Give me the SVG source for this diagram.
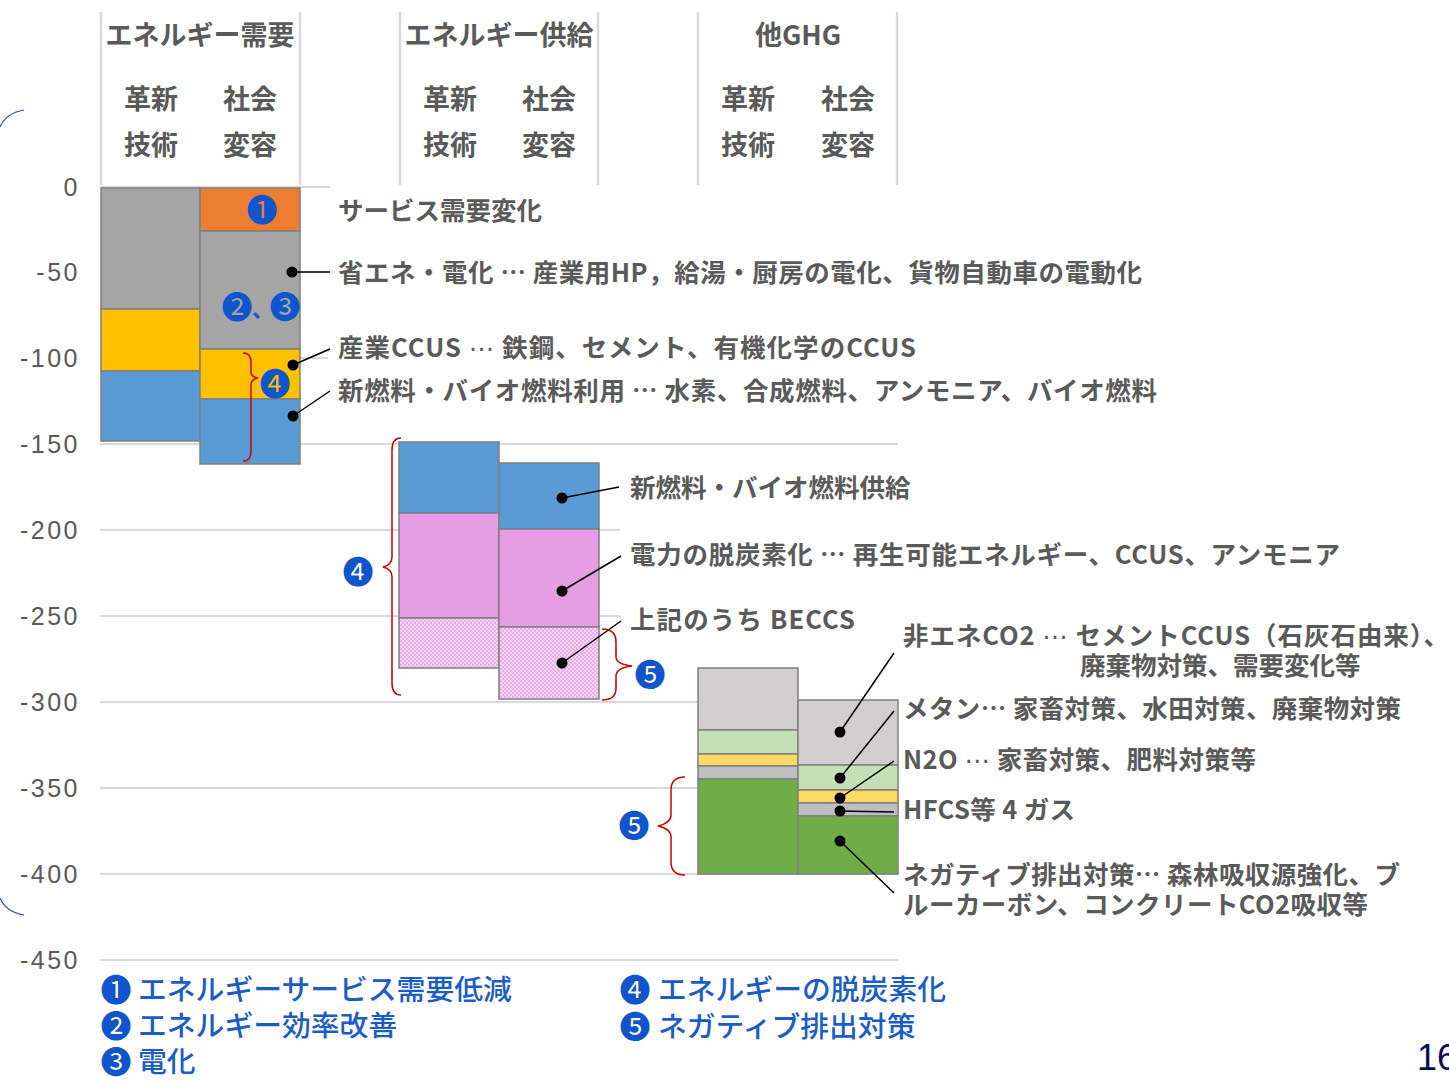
<svg xmlns="http://www.w3.org/2000/svg" width="1449" height="1082" viewBox="0 0 1449 1082">
<style>
.lbl{font-family:"Noto Sans CJK JP","Noto Sans",sans-serif;font-weight:700;fill:#5a5a5a;font-size:25.5px}
.hdr{font-family:"Noto Sans CJK JP","Noto Sans",sans-serif;font-weight:700;fill:#5a5a5a;font-size:27px}
.ax{font-family:"Liberation Sans",Arial,sans-serif;fill:#595959;font-size:25px;text-anchor:end;letter-spacing:2.5px}
.leg{font-family:"Noto Sans CJK JP","Noto Sans",sans-serif;font-weight:500;fill:#1a5cc8;font-size:28.8px}
.bdg{font-family:"Noto Sans CJK JP","DejaVu Sans",sans-serif;fill:#1155cc;text-anchor:middle;font-size:31px}
.el{font-family:"DejaVu Sans",sans-serif;font-weight:400}
.grid{stroke:#d9d9d9;stroke-width:2;fill:none}
.vline{stroke:#d9d9d9;stroke-width:2.5}
.bar{stroke:#7f7f7f;stroke-width:1.5}
.con{stroke:#000;stroke-width:1.5;fill:none}
.dot{fill:#000}
.brace{stroke:#d00000;stroke-width:1.5;fill:none}
</style>
<defs>
<pattern id="pk" width="4" height="4" patternUnits="userSpaceOnUse">
<rect width="4" height="4" fill="#f4d2f3"/>
<circle cx="1" cy="1" r="0.9" fill="#e29ce0"/>
<circle cx="3" cy="3" r="0.9" fill="#e29ce0"/>
</pattern>
</defs>
<rect width="1449" height="1082" fill="#fff"/>

<g id="bracket-left">
<path d="M24,110 Q6,113 0,127" stroke="#3355aa" stroke-width="1.2" fill="none"/>
<path d="M24,915 Q6,912 0,898" stroke="#3355aa" stroke-width="1.2" fill="none"/>
</g>

<g id="gridlines">
<line class="grid" x1="100" y1="187" x2="330" y2="187"/>
<line class="grid" x1="100" y1="272" x2="330" y2="272"/>
<line class="grid" x1="100" y1="358" x2="328" y2="358"/>
<line class="grid" x1="100" y1="444" x2="898" y2="444"/>
<line class="grid" x1="100" y1="530" x2="620" y2="530"/>
<line class="grid" x1="100" y1="616" x2="620" y2="616"/>
<line class="grid" x1="100" y1="702" x2="898" y2="702"/>
<line class="grid" x1="100" y1="788" x2="898" y2="788"/>
<line class="grid" x1="100" y1="874" x2="898" y2="874"/>
<line class="grid" x1="100" y1="960" x2="898" y2="960"/>
</g>

<g id="axis">
<text class="ax" x="80" y="196">0</text>
<text class="ax" x="80" y="281">-50</text>
<text class="ax" x="80" y="367">-100</text>
<text class="ax" x="80" y="453">-150</text>
<text class="ax" x="80" y="539">-200</text>
<text class="ax" x="80" y="625">-250</text>
<text class="ax" x="80" y="711">-300</text>
<text class="ax" x="80" y="797">-350</text>
<text class="ax" x="80" y="883">-400</text>
<text class="ax" x="80" y="969">-450</text>
</g>

<g id="header-demand">
<line class="vline" x1="101" y1="12" x2="101" y2="185"/>
<line class="vline" x1="300" y1="12" x2="300" y2="185"/>
<text class="hdr" x="200" y="45" text-anchor="middle">エネルギー需要</text>
<text class="hdr" x="151" y="109" text-anchor="middle">革新</text>
<text class="hdr" x="151" y="155" text-anchor="middle">技術</text>
<text class="hdr" x="250" y="109" text-anchor="middle">社会</text>
<text class="hdr" x="250" y="155" text-anchor="middle">変容</text>
</g>
<g id="header-supply">
<line class="vline" x1="400" y1="12" x2="400" y2="185"/>
<line class="vline" x1="598" y1="12" x2="598" y2="185"/>
<text class="hdr" x="499" y="45" text-anchor="middle">エネルギー供給</text>
<text class="hdr" x="450" y="109" text-anchor="middle">革新</text>
<text class="hdr" x="450" y="155" text-anchor="middle">技術</text>
<text class="hdr" x="549" y="109" text-anchor="middle">社会</text>
<text class="hdr" x="549" y="155" text-anchor="middle">変容</text>
</g>
<g id="header-ghg">
<line class="vline" x1="698" y1="12" x2="698" y2="185"/>
<line class="vline" x1="897" y1="12" x2="897" y2="185"/>
<text class="hdr" x="798" y="45" text-anchor="middle">他GHG</text>
<text class="hdr" x="748" y="109" text-anchor="middle">革新</text>
<text class="hdr" x="748" y="155" text-anchor="middle">技術</text>
<text class="hdr" x="848" y="109" text-anchor="middle">社会</text>
<text class="hdr" x="848" y="155" text-anchor="middle">変容</text>
</g>

<g id="bar-demand-tech">
<rect class="bar" x="101" y="188" width="99" height="121" fill="#a5a5a5"/>
<rect class="bar" x="101" y="309" width="99" height="62" fill="#ffc000"/>
<rect class="bar" x="101" y="371" width="99" height="70" fill="#5b9bd5"/>
</g>
<g id="bar-demand-social">
<rect class="bar" x="200" y="188" width="100" height="43" fill="#ed7d31"/>
<rect class="bar" x="200" y="231" width="100" height="118" fill="#a5a5a5"/>
<rect class="bar" x="200" y="349" width="100" height="50" fill="#ffc000"/>
<rect class="bar" x="200" y="399" width="100" height="65" fill="#5b9bd5"/>
</g>
<g id="bar-supply-tech">
<rect class="bar" x="399" y="442" width="100" height="71" fill="#5b9bd5"/>
<rect class="bar" x="399" y="513" width="100" height="105" fill="#e59ee3"/>
<rect class="bar" x="399" y="618" width="100" height="50" fill="url(#pk)"/>
</g>
<g id="bar-supply-social">
<rect class="bar" x="499" y="463" width="100" height="66" fill="#5b9bd5"/>
<rect class="bar" x="499" y="529" width="100" height="98" fill="#e59ee3"/>
<rect class="bar" x="499" y="627" width="100" height="72" fill="url(#pk)"/>
</g>
<g id="bar-ghg-tech">
<rect class="bar" x="698" y="668" width="100" height="62" fill="#d0cece"/>
<rect class="bar" x="698" y="730" width="100" height="24" fill="#c5e0b4"/>
<rect class="bar" x="698" y="754" width="100" height="12" fill="#ffd966"/>
<rect class="bar" x="698" y="766" width="100" height="13" fill="#bfbfbf"/>
<rect class="bar" x="698" y="779" width="100" height="95" fill="#70ad47"/>
</g>
<g id="bar-ghg-social">
<rect class="bar" x="798" y="700" width="100" height="65" fill="#d0cece"/>
<rect class="bar" x="798" y="765" width="100" height="25" fill="#c5e0b4"/>
<rect class="bar" x="798" y="790" width="100" height="13" fill="#ffd966"/>
<rect class="bar" x="798" y="803" width="100" height="13" fill="#bfbfbf"/>
<rect class="bar" x="798" y="816" width="100" height="58" fill="#70ad47"/>
</g>

<g id="connectors">
<line class="con" x1="292" y1="272" x2="330" y2="272"/>
<line class="con" x1="293" y1="365" x2="330" y2="349"/>
<line class="con" x1="293" y1="416" x2="330" y2="391"/>
<line class="con" x1="562" y1="498" x2="619" y2="487"/>
<line class="con" x1="562" y1="591" x2="621" y2="556"/>
<line class="con" x1="562" y1="663" x2="621" y2="621"/>
<line class="con" x1="840" y1="732" x2="894" y2="653"/>
<line class="con" x1="840" y1="778" x2="894" y2="711"/>
<line class="con" x1="840" y1="798" x2="894" y2="761"/>
<line class="con" x1="840" y1="811" x2="894" y2="812"/>
<line class="con" x1="840" y1="841" x2="894" y2="893"/>
<circle class="dot" cx="292" cy="272" r="5.5"/>
<circle class="dot" cx="293" cy="365" r="5.5"/>
<circle class="dot" cx="293" cy="416" r="5.5"/>
<circle class="dot" cx="562" cy="498" r="5.5"/>
<circle class="dot" cx="562" cy="591" r="5.5"/>
<circle class="dot" cx="562" cy="663" r="5.5"/>
<circle class="dot" cx="840" cy="732" r="5.5"/>
<circle class="dot" cx="840" cy="778" r="5.5"/>
<circle class="dot" cx="840" cy="798" r="5.5"/>
<circle class="dot" cx="840" cy="811" r="5.5"/>
<circle class="dot" cx="840" cy="841" r="5.5"/>
</g>

<g id="braces">
<path class="brace" d="M243,353 Q251,353 251,362 L251,372 Q251,377 258,378 Q251,379 251,385 L251,452 Q251,461 243,461"/>
<path class="brace" d="M401,438 Q392,438 392,450 L392,557 Q392,565 383,567 Q392,569 392,577 L392,683 Q392,695 401,695"/>
<path class="brace" d="M602,629 Q616,629 616,642 L616,657 Q616,664 632,666 Q616,668 616,676 L616,688 Q616,700 602,700"/>
<path class="brace" d="M685,777 Q671,777 671,790 L671,815 Q671,823 658,826 Q671,829 671,837 L671,862 Q671,875 685,875"/>
</g>

<g id="badges">
<text class="bdg" x="262" y="221">❶</text>
<text class="bdg" x="237" y="318">❷</text>
<text x="252" y="317" font-family="Noto Sans CJK JP,sans-serif" font-size="22" fill="#1155cc" font-weight="700">、</text>
<text class="bdg" x="285" y="318">❸</text>
<text class="bdg" x="275" y="395">❹</text>
<text class="bdg" x="358" y="583">❹</text>
<text class="bdg" x="650" y="686">❺</text>
<text class="bdg" x="634" y="837">❺</text>
</g>

<g id="labels-demand">
<text class="lbl" x="338" y="220">サービス需要変化</text>
<text class="lbl" x="338" y="282" textLength="804" lengthAdjust="spacing">省エネ・電化 … 産業用HP，給湯・厨房の電化、貨物自動車の電動化</text>
<text class="lbl" x="338" y="357" textLength="578" lengthAdjust="spacing">産業CCUS <tspan class="el">⋯</tspan> 鉄鋼、セメント、有機化学のCCUS</text>
<text class="lbl" x="338" y="400" textLength="819" lengthAdjust="spacing">新燃料・バイオ燃料利用 … 水素、合成燃料、アンモニア、バイオ燃料</text>
</g>
<g id="labels-supply">
<text class="lbl" x="630" y="497">新燃料・バイオ燃料供給</text>
<text class="lbl" x="630" y="564" textLength="710" lengthAdjust="spacing">電力の脱炭素化 … 再生可能エネルギー、CCUS、アンモニア</text>
<text class="lbl" x="630" y="629" textLength="225" lengthAdjust="spacing">上記のうち BECCS</text>
</g>
<g id="labels-ghg">
<text class="lbl" x="903" y="645" textLength="546" lengthAdjust="spacing">非エネCO2 <tspan class="el">⋯</tspan> セメントCCUS（石灰石由来）、</text>
<text class="lbl" x="1080" y="675">廃棄物対策、需要変化等</text>
<text class="lbl" x="903" y="718" textLength="498" lengthAdjust="spacing">メタン… 家畜対策、水田対策、廃棄物対策</text>
<text class="lbl" x="903" y="769" textLength="353" lengthAdjust="spacing">N2O <tspan class="el">⋯</tspan> 家畜対策、肥料対策等</text>
<text class="lbl" x="903" y="819" textLength="172" lengthAdjust="spacing">HFCS等 4 ガス</text>
<text class="lbl" x="903" y="884" textLength="497" lengthAdjust="spacing">ネガティブ排出対策… 森林吸収源強化、ブ</text>
<text class="lbl" x="903" y="914" textLength="465" lengthAdjust="spacing">ルーカーボン、コンクリートCO2吸収等</text>
</g>

<g id="legend">
<text class="bdg" x="116" y="1001">❶</text>
<text class="leg" x="138" y="1000">エネルギーサービス需要低減</text>
<text class="bdg" x="116" y="1037">❷</text>
<text class="leg" x="138" y="1036">エネルギー効率改善</text>
<text class="bdg" x="116" y="1073">❸</text>
<text class="leg" x="138" y="1072">電化</text>
<text class="bdg" x="635" y="1001">❹</text>
<text class="leg" x="658" y="1000">エネルギーの脱炭素化</text>
<text class="bdg" x="635" y="1038">❺</text>
<text class="leg" x="658" y="1037">ネガティブ排出対策</text>
</g>

<text x="1417" y="1070" font-family="Liberation Sans,Arial,sans-serif" font-size="36" fill="#0b0b55">16</text>
</svg>
